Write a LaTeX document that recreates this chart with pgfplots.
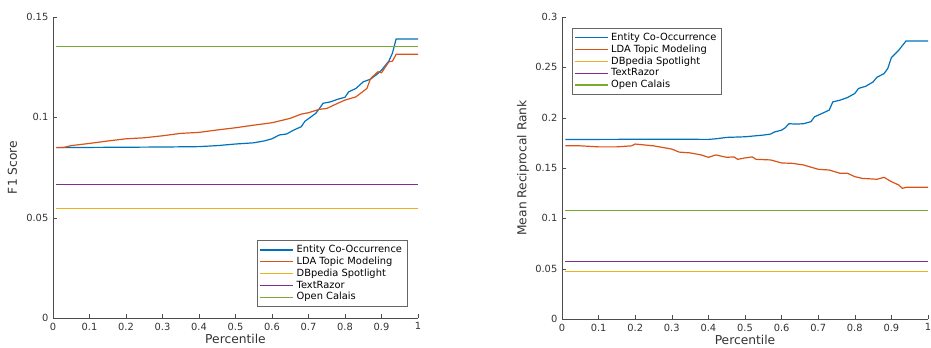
\documentclass[border=0pt]{standalone}
\usepackage{fontspec}
\setmainfont{DejaVu Sans}
\usepackage{pgfplots}
\pgfplotsset{compat=1.18}
\definecolor{mblue}{rgb}{0,0.447,0.741}
\definecolor{morange}{rgb}{0.85,0.325,0.098}
\definecolor{myellow}{rgb}{0.929,0.694,0.125}
\definecolor{mpurple}{rgb}{0.494,0.184,0.556}
\definecolor{mgreen}{rgb}{0.466,0.674,0.188}
\pgfplotsset{
  mstyle/.style={
    scale only axis,
    axis lines*=left,
    axis line style={draw=black!70,-},
    tick align=inside,
    major tick length=3pt,
    tick style={draw=black!70},
    xmin=0, xmax=1, ymin=0,
    xtick={0,0.1,0.2,0.3,0.4,0.5,0.6,0.7,0.8,0.9,1},
    scaled y ticks=false,
    scaled x ticks=false,
    /pgf/number format/assume math mode=true,
    /pgf/number format/fixed,
    /pgf/number format/precision=2,
    tick label style={font=\fontsize{7.4}{9}\selectfont, text=black!80},
    label style={font=\fontsize{9.2}{11}\selectfont, text=black!80},
    xlabel={Percentile},
    xlabel style={yshift=3.5pt},
    legend cell align=left,
    legend style={draw=black!60, fill=white, font=\fontsize{7.4}{8}\selectfont,
      inner sep=1.6pt, row sep=-2.2pt},
    legend image code/.code={\draw[#1] (0cm,0cm) -- (0.87cm,0cm);},
    every axis plot/.append style={line width=0.9pt},
  }
}
\begin{document}
\begin{tikzpicture}
\begin{axis}[mstyle,
  at={(39.75pt,22.5pt)}, anchor=south west,
  width=273.75pt, height=225.75pt,
  ymax=0.15, ytick={0,0.05,0.1,0.15},
  ylabel={F1 Score},
  legend style={at={(0.970,0.0365)}, anchor=south east},
]
\addplot[color=mblue] coordinates {
(0.009,0.0849) (0.1,0.0850) (0.2,0.0851) (0.3,0.0852) (0.4,0.0854) (0.45,0.0859)
(0.5,0.0867) (0.55,0.0873) (0.58,0.0883) (0.6,0.0893) (0.62,0.0912) (0.64,0.0917)
(0.66,0.0937) (0.68,0.0953) (0.69,0.098) (0.72,0.102) (0.73,0.1044) (0.74,0.107)
(0.76,0.1077) (0.78,0.109) (0.8,0.110) (0.81,0.1127) (0.83,0.1144) (0.85,0.1177)
(0.87,0.119) (0.89,0.1218) (0.9,0.1235) (0.92,0.128) (0.93,0.132) (0.94,0.139) (1.0,0.139)
};
\addlegendentry{Entity Co-Occurrence}
\addplot[color=morange] coordinates {
(0.009,0.085) (0.03,0.085) (0.05,0.0859) (0.1,0.087) (0.15,0.0882) (0.2,0.0893)
(0.25,0.0898) (0.3,0.0908) (0.35,0.092) (0.4,0.0925) (0.45,0.0937) (0.5,0.0948)
(0.55,0.0961) (0.6,0.0973) (0.65,0.0995) (0.68,0.1016) (0.7,0.1023) (0.73,0.104)
(0.75,0.1044) (0.78,0.107) (0.8,0.1086) (0.83,0.1102) (0.86,0.1144) (0.87,0.1193)
(0.89,0.1227) (0.9,0.1222) (0.92,0.1276) (0.93,0.128) (0.94,0.1314) (1.0,0.1314)
};
\addlegendentry{LDA Topic Modeling}
\addplot[color=myellow] coordinates {(0.009,0.0547) (1,0.0547)};
\addlegendentry{DBpedia Spotlight}
\addplot[color=mpurple] coordinates {(0.009,0.0666) (1,0.0666)};
\addlegendentry{TextRazor}
\addplot[color=mgreen] coordinates {(0.009,0.1354) (1,0.1354)};
\addlegendentry{Open Calais}
\end{axis}

\begin{axis}[mstyle,
  at={(421.5pt,21.75pt)}, anchor=south west,
  width=274.5pt, height=226.5pt,
  ymax=0.3, ytick={0,0.05,0.1,0.15,0.2,0.25,0.3},
  ylabel={Mean Reciprocal Rank},
  ylabel style={yshift=-2pt},
  legend style={at={(0.027,0.9636)}, anchor=north west},
]
\addplot[color=mblue] coordinates {
(0.009,0.1784) (0.1,0.1784) (0.2,0.1785) (0.3,0.1786) (0.4,0.1784) (0.42,0.179)
(0.45,0.1804) (0.5,0.181) (0.55,0.1827) (0.57,0.1837) (0.58,0.1857) (0.6,0.1876)
(0.61,0.19) (0.62,0.194) (0.64,0.1936) (0.66,0.194) (0.68,0.196) (0.69,0.2009)
(0.7,0.2025) (0.72,0.2058) (0.73,0.2075) (0.74,0.2157) (0.76,0.2174) (0.78,0.22)
(0.8,0.224) (0.81,0.229) (0.83,0.2312) (0.85,0.2355) (0.86,0.24) (0.88,0.2438)
(0.89,0.2488) (0.9,0.2597) (0.92,0.267) (0.94,0.2762) (1.0,0.2762)
};
\addlegendentry{Entity Co-Occurrence}
\addplot[color=morange] coordinates {
(0.009,0.1721) (0.05,0.172) (0.1,0.171) (0.15,0.171) (0.19,0.172) (0.2,0.1738)
(0.25,0.172) (0.3,0.1688) (0.32,0.1658) (0.35,0.165) (0.38,0.163) (0.4,0.1606)
(0.42,0.163) (0.45,0.1606) (0.47,0.161) (0.48,0.1586) (0.5,0.160) (0.52,0.161)
(0.53,0.1586) (0.57,0.158) (0.6,0.155) (0.63,0.1546) (0.66,0.153) (0.7,0.1487)
(0.73,0.148) (0.76,0.1447) (0.78,0.1447) (0.8,0.1414) (0.82,0.1397) (0.86,0.1388)
(0.88,0.1407) (0.9,0.1364) (0.92,0.1331) (0.93,0.1298) (0.94,0.1308) (1.0,0.1308)
};
\addlegendentry{LDA Topic Modeling}
\addplot[color=myellow] coordinates {(0.009,0.0472) (1,0.0472)};
\addlegendentry{DBpedia Spotlight}
\addplot[color=mpurple] coordinates {(0.009,0.0572) (1,0.0572)};
\addlegendentry{TextRazor}
\addplot[color=mgreen] coordinates {(0.009,0.1077) (1,0.1077)};
\addlegendentry{Open Calais}
\end{axis}
\pgfresetboundingbox
\path[use as bounding box] (0,0) rectangle (698.25pt,261pt);
\end{tikzpicture}
\end{document}
